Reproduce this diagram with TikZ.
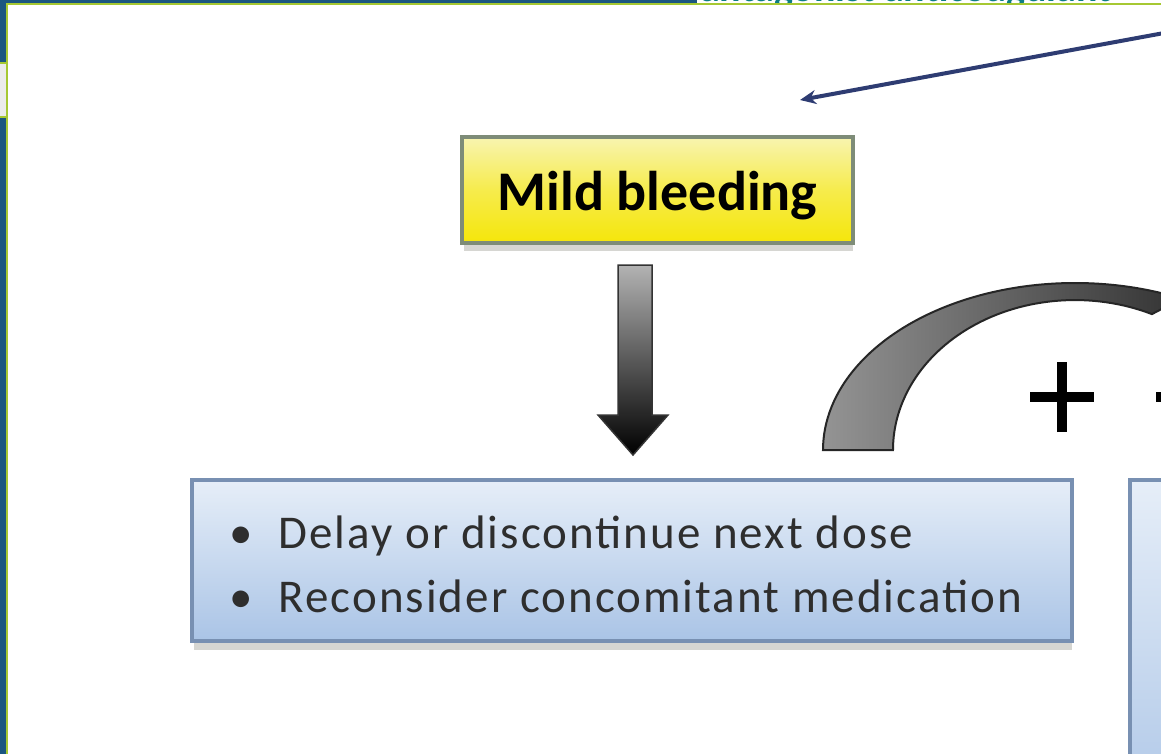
\documentclass[tikz,border=0pt]{standalone}
\usepackage{fontspec}
\setmainfont{Carlito}
\usetikzlibrary{arrows.meta}
\definecolor{frameblue}{HTML}{1B5680}
\definecolor{framegreen}{HTML}{A6C832}
\definecolor{titleteal}{HTML}{0E7E84}
\definecolor{ybord}{HTML}{7E8C78}
\definecolor{ytop}{HTML}{F8F4B0}
\definecolor{ybot}{HTML}{F5E60A}
\definecolor{bbord}{HTML}{7890B2}
\definecolor{btop}{HTML}{E6EEF8}
\definecolor{bbot}{HTML}{AAC4E6}
\definecolor{shadowgray}{HTML}{D6D6D2}
\definecolor{navy}{HTML}{2E3C72}
\tikzset{
  ybox/.style={draw=ybord, line width=4pt, top color=ytop, bottom color=ybot, middle color=ytop!40!ybot,
    minimum width=391pt, minimum height=106pt, inner sep=0pt, text height=42pt, text depth=0pt,
    font=\fontsize{56}{60}\selectfont\bfseries},
  bbox/.style={draw=bbord, line width=4pt, top color=btop, bottom color=bbot, inner sep=0pt},
  boxshadow/.style={fill=shadowgray},
  blockarrow/.style={draw=black!80, line width=1.5pt, top color=black!30, bottom color=black},
  curvearrow/.style={draw=black!85, line width=2pt, left color=black!42, right color=black!80},
  pointer/.style={draw=navy, line width=4pt, -{Stealth[length=16pt,width=14pt]}},
  plussign/.style={draw=black, line width=10pt},
  bullettext/.style={inner sep=0pt, anchor=base west, text=black!82,
    font=\fontsize{47}{64}\selectfont\addfontfeatures{LetterSpace=4.3}}
}
\begin{document}
\begin{tikzpicture}[x=1pt,y=-1pt]
\useasboundingbox (0,0) rectangle (1161,754);
\clip (0,0) rectangle (1161,754);
% surrounding frame
\fill[frameblue] (0,0) rectangle (697,4);
\fill[frameblue] (0,0) rectangle (7,754);
\node[anchor=base west, inner sep=0pt, text=titleteal, font=\fontsize{40}{44}\selectfont\bfseries] (title) at (700,2) {antagonist anticoagulant};
\fill[white] (7,4) rectangle (1161,754);
\fill[black!8] (0,63) rectangle (6,117);
\draw[framegreen, line width=2pt] (0,63) -- (7,63);
\draw[framegreen, line width=2pt] (0,117) -- (7,117);
\draw[framegreen, line width=2pt] (7,754) -- (7,4) -- (1161,4);
% shadows
\fill[boxshadow] (464,243) rectangle (853,251);
\fill[boxshadow] (194,641) rectangle (1072,650);
% yellow box
\node[ybox] (mild) at (657.5,190) {Mild bleeding};
% block arrow down
\path[blockarrow] (618,265) -- (652,265) -- (652,415) -- (668,415) -- (633,455) -- (598,415) -- (618,415) -- cycle;
% blue box with bullets
\node[bbox, minimum width=880pt, minimum height=161pt] (actions) at (632,560.5) {};
\node[bullettext] (actionstext) at (229,548) {\begin{tabular}[t]{@{}l@{\hspace{26pt}}l@{}}\textbullet & Delay or discontinue next dose\\ \textbullet & Reconsider concomitant medication\end{tabular}};
% second box (partly visible)
\node[bbox, minimum width=200pt, minimum height=360pt] (nextbox) at (1230,660) {};
% curved arrow
\path[curvearrow] (823,450) arc[start angle=180, end angle=295, x radius=252, y radius=167]
  -- (1151.9,314.1) arc[start angle=295, end angle=180, x radius=182, y radius=150] -- cycle;
% plus signs
\coordinate (plusA) at (1062,397);
\draw[plussign] ([xshift=-32pt]plusA) -- ([xshift=32pt]plusA);
\draw[plussign] ([yshift=-35pt]plusA) -- ([yshift=35pt]plusA);
\coordinate (plusB) at (1188,397);
\draw[plussign] ([xshift=-32pt]plusB) -- ([xshift=32pt]plusB);
% pointer from the top right
\coordinate (pfrom) at (1175,31);
\coordinate (pto) at (800,100);
\draw[pointer] (pfrom) -- (pto);
\end{tikzpicture}
\end{document}
